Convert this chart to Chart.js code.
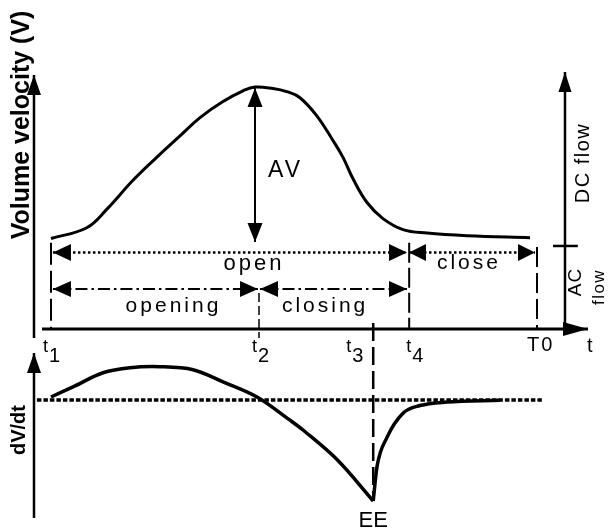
<!DOCTYPE html>
<html>
<head>
<meta charset="utf-8">
<title>Glottal flow and its derivative</title>
<script src="https://cdn.jsdelivr.net/npm/chart.js@4.4.1/dist/chart.umd.min.js"></script>
<style>
  html, body { margin: 0; padding: 0; background: #fff; }
  #wrap { width: 611px; height: 532px; position: relative; }
</style>
</head>
<body>
<div id="wrap"><canvas id="glottalChart"></canvas></div>
<script>
// time in units of the period: t1 = 0, T0 = 10
const phaseTicks = ['t1', 't2', 't3', 't4', 'T0'];
const phaseTimes = [0, 4.28, 6.63, 7.37, 10];

// volume velocity V (peak AV = 1)
const flowT = [0, 0.735, 1.146, 1.687, 2.175, 2.654, 3.066, 3.539, 3.951, 4.20, 4.568, 4.85, 5.123, 5.473, 5.802, 6.008, 6.214, 6.502, 6.831, 7.243, 7.737, 8.56, 9.856];
const flowV = [0.01, 0.08, 0.20, 0.39, 0.54, 0.68, 0.80, 0.905, 0.975, 1.00, 0.99, 0.97, 0.93, 0.81, 0.65, 0.54, 0.40, 0.245, 0.14, 0.068, 0.045, 0.028, 0.015];

// derivative dV/dt (EE = -1)
const derivT = [0, 0.453, 1.07, 1.626, 2.243, 2.922, 3.539, 4.239, 4.918, 5.185, 5.885, 6.63, 6.708, 6.914, 7.243, 7.593, 8.148, 9.239];
const derivD = [0.03, 0.13, 0.27, 0.32, 0.33, 0.30, 0.18, 0.03, -0.20, -0.297, -0.59, -1.0, -0.66, -0.37, -0.13, -0.055, -0.02, -0.003];

const black = '#000';

function pts(xs, ys) {
    return xs.map((x, i) => ({ x: x, y: ys[i] }));
}

function line(data, axis, width, dash, heads) {
    return {
        data: data,
        yAxisID: axis,
        borderColor: black,
        borderWidth: width,
        borderDash: dash || [],
        borderCapStyle: 'butt',
        pointRadius: 0,
        tension: 0,
        fill: false,
        heads: heads
    };
}

// curves
const eeIndex = derivD.indexOf(Math.min(...derivD));
const flowCurve = line(pts(flowT, flowV), 'yV', 3);
flowCurve.tension = 0.4;
const fallCurve = line(pts(derivT.slice(0, eeIndex + 1), derivD.slice(0, eeIndex + 1)), 'yD', 3.5);
fallCurve.tension = 0.35;
const returnCurve = line(pts(derivT.slice(eeIndex), derivD.slice(eeIndex)), 'yD', 3.5);
returnCurve.cubicInterpolationMode = 'monotone';

// phase markers (dashed verticals)
const markers = [
    line([{ x: phaseTimes[0], y: -0.018 }, { x: phaseTimes[0], y: -0.582 }], 'yV', 2, [22, 6]),
    line([{ x: phaseTimes[1], y: -0.346 }, { x: phaseTimes[1], y: -0.641 }], 'yV', 1.5, [9, 4]),
    line([{ x: phaseTimes[2], y: 0.762 }, { x: phaseTimes[2], y: -1.0 }], 'yD', 2.5, [18, 6]),
    line([{ x: phaseTimes[3], y: -0.018 }, { x: phaseTimes[3], y: -0.582 }], 'yV', 2, [20, 5]),
    line([{ x: phaseTimes[4], y: -0.046 }, { x: phaseTimes[4], y: -0.582 }], 'yV', 2, [20, 6])
];

// axes drawn as lines
const axes = [
    line([{ x: -0.35, y: -0.641 }, { x: -0.35, y: 1.078 }], 'yV', 2.5, null, { end: true, len: 20, half: 7 }),
    line([{ x: -0.35, y: -1.168 }, { x: -0.35, y: 0.465 }], 'yD', 2.5, null, { end: true, len: 20, half: 7 }),
    line([{ x: -0.185, y: -0.582 }, { x: 11.05, y: -0.582 }], 'yV', 3, null, { end: true, len: 25, half: 7 }),
    line([{ x: 10.576, y: -0.582 }, { x: 10.576, y: 1.098 }], 'yV', 2.5, null, { end: true, len: 20, half: 6.5 }),
    line([{ x: 10.33, y: -0.039 }, { x: 10.84, y: -0.039 }], 'yV', 2.5),
    line([{ x: -0.29, y: 0 }, { x: 10.1, y: 0 }], 'yD', 3.5, [4.5, 2])
];

// range arrows
const ranges = [
    line([{ x: 4.198, y: -0.013 }, { x: 4.198, y: 0.993 }], 'yV', 2, null, { start: true, end: true, len: 19, half: 7.5 }),
    line([{ x: 0.04, y: -0.082 }, { x: 7.325, y: -0.082 }], 'yV', 2.5, [2.5, 2.5], { start: true, end: true, len: 18, half: 8.5 }),
    line([{ x: 7.366, y: -0.082 }, { x: 9.959, y: -0.082 }], 'yV', 2.5, [2.5, 2.5], { start: true, end: true, len: 17, half: 8.5 }),
    line([{ x: 0.04, y: -0.32 }, { x: 4.259, y: -0.32 }], 'yV', 2, [12, 4, 2.5, 4], { start: true, end: true, len: 18, half: 8 }),
    line([{ x: 4.30, y: -0.32 }, { x: 7.325, y: -0.32 }], 'yV', 2, [12, 4, 2.5, 4], { start: true, end: true, len: 18, half: 8 })
];

// text notes, anchored in axis units
const notes = [
    { text: 'Volume velocity (V)', x: -0.597, y: 0.752, axis: 'yV', size: 25, bold: true, rot: true },
    { text: 'dV/dt', x: -0.658, y: -0.297, axis: 'yD', size: 20, bold: true, rot: true },
    { text: 'AV', x: 4.825, y: 0.412, axis: 'yV', size: 23, sp: 3 },
    { text: 'open', x: 4.177, y: -0.196, axis: 'yV', size: 22, sp: 3 },
    { text: 'close', x: 8.60, y: -0.190, axis: 'yV', size: 21, sp: 3 },
    { text: 'opening', x: 2.52, y: -0.471, axis: 'yV', size: 21, sp: 3 },
    { text: 'closing', x: 5.64, y: -0.471, axis: 'yV', size: 21, sp: 3 },
    { text: 'DC flow', x: 10.947, y: 0.503, axis: 'yV', size: 20, sp: 1.5, rot: true },
    { text: 'AC', x: 10.80, y: -0.275, axis: 'yV', size: 19, sp: 1, rot: true },
    { text: 'flow', x: 11.276, y: -0.307, axis: 'yV', size: 17, sp: 1.5, rot: true },
    { text: 'EE', x: 6.63, y: -1.257, axis: 'yD', size: 22 },
    { text: 't', x: 11.03, y: -0.732, axis: 'yV', size: 20, align: 'left' }
];
const tickNudge = [-8, -7, -27, -3, -10];

function drawHead(ctx, tip, from, len, half) {
    const a = Math.atan2(tip.y - from.y, tip.x - from.x);
    const bx = tip.x - len * Math.cos(a), by = tip.y - len * Math.sin(a);
    ctx.beginPath();
    ctx.moveTo(tip.x, tip.y);
    ctx.lineTo(bx + half * Math.sin(a), by - half * Math.cos(a));
    ctx.lineTo(bx - half * Math.sin(a), by + half * Math.cos(a));
    ctx.closePath();
    ctx.fill();
}

const arrowHeads = {
    id: 'arrowHeads',
    afterDatasetsDraw(chart) {
        const ctx = chart.ctx;
        ctx.save();
        ctx.fillStyle = black;
        chart.data.datasets.forEach((ds, i) => {
            if (!ds.heads) return;
            const p = chart.getDatasetMeta(i).data;
            const a = p[0], b = p[p.length - 1];
            if (ds.heads.start) drawHead(ctx, a, b, ds.heads.len, ds.heads.half);
            if (ds.heads.end) drawHead(ctx, b, a, ds.heads.len, ds.heads.half);
        });
        ctx.restore();
    }
};

const textNotes = {
    id: 'textNotes',
    afterDatasetsDraw(chart) {
        const ctx = chart.ctx;
        const xs = chart.scales.x;
        ctx.save();
        ctx.fillStyle = black;
        notes.forEach(n => {
            const px = xs.getPixelForValue(n.x);
            const py = chart.scales[n.axis].getPixelForValue(n.y);
            ctx.font = (n.bold ? 'bold ' : '') + n.size + 'px "Liberation Sans", Arial, sans-serif';
            ctx.letterSpacing = (n.sp || 0) + 'px';
            ctx.save();
            ctx.translate(px, py);
            if (n.rot) {
                ctx.rotate(-Math.PI / 2);
                ctx.textAlign = 'center';
                ctx.textBaseline = 'middle';
            } else {
                ctx.textAlign = n.align || 'center';
                ctx.textBaseline = 'alphabetic';
            }
            ctx.fillText(n.text, 0, 0);
            ctx.restore();
        });

        // phase tick labels t1..T0
        ctx.letterSpacing = '0px';
        ctx.textAlign = 'left';
        ctx.textBaseline = 'alphabetic';
        const base = chart.scales.yV.getPixelForValue(-0.732);
        phaseTicks.forEach((lab, i) => {
            const px = xs.getPixelForValue(phaseTimes[i]) + tickNudge[i];
            if (lab[0] === 't') {
                ctx.font = '18px "Liberation Sans", Arial, sans-serif';
                ctx.fillText('t', px, base);
                ctx.font = '20px "Liberation Sans", Arial, sans-serif';
                ctx.fillText(lab.slice(1), px + 6, base + 10);
            } else {
                ctx.font = '20px "Liberation Sans", Arial, sans-serif';
                ctx.letterSpacing = '2px';
                ctx.fillText(lab, px, base - 1);
                ctx.letterSpacing = '0px';
            }
        });
        ctx.restore();
    }
};

const xPerUnit = 48.6;   // px per time unit
const vPerUnit = 153;    // px per unit of V
const dPerUnit = 101;    // px per unit of dV/dt

new Chart(document.getElementById('glottalChart').getContext('2d'), {
    type: 'line',
    data: {
        datasets: [flowCurve, fallCurve, returnCurve].concat(markers, axes, ranges)
    },
    options: {
        responsive: true,
        maintainAspectRatio: false,
        animation: false,
        events: [],
        layout: { padding: 0, autoPadding: false },
        plugins: {
            legend: { display: false },
            tooltip: { enabled: false }
        },
        scales: {
            x: {
                type: 'linear',
                display: false,
                min: -51 / xPerUnit,
                max: (611 - 51) / xPerUnit
            },
            yV: {
                type: 'linear',
                display: false,
                min: (240 - 532) / vPerUnit,
                max: 240 / vPerUnit
            },
            yD: {
                type: 'linear',
                display: false,
                min: (400 - 532) / dPerUnit,
                max: 400 / dPerUnit
            }
        }
    },
    plugins: [arrowHeads, textNotes]
});
</script>
</body>
</html>
